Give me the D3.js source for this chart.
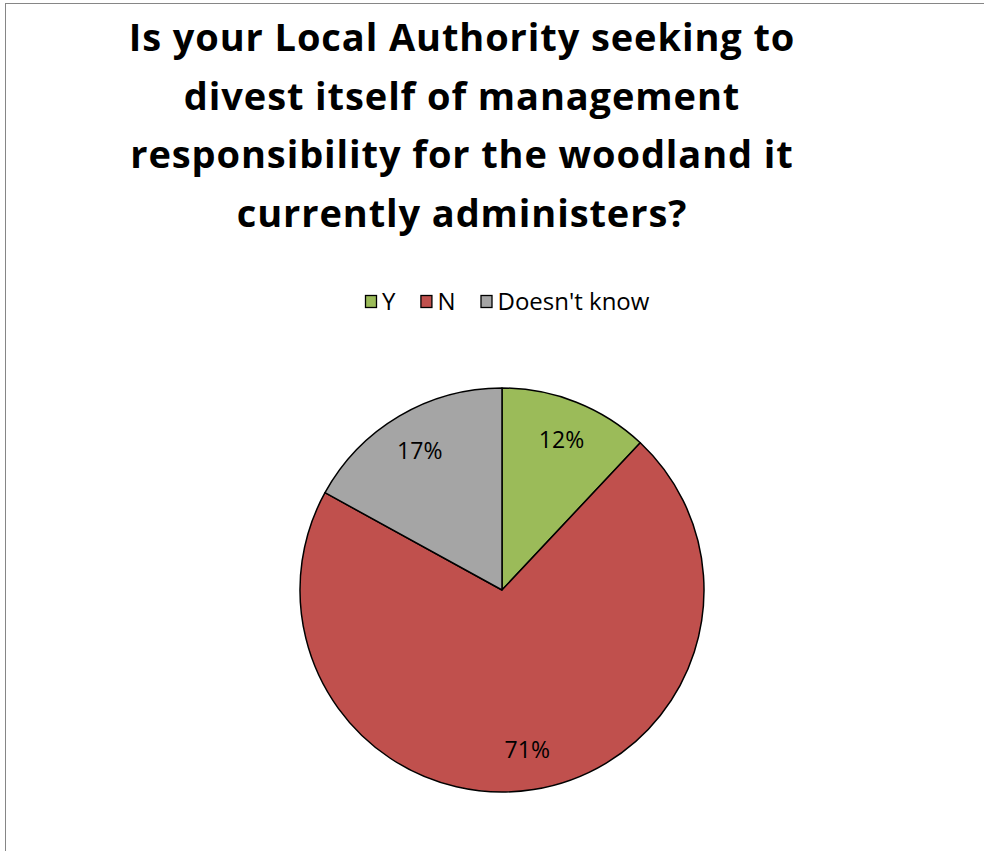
<!DOCTYPE html>
<html>
<head>
<meta charset="utf-8">
<script src="https://cdn.jsdelivr.net/npm/d3@7"></script>
<style>
  html, body { margin: 0; padding: 0; background: #fff; }
  svg { display: block; }
</style>
</head>
<body>
<svg id="chart" width="984" height="851"></svg>
<script>
// Survey answers and their shares (percent)
const categories = ["Y", "N", "Doesn't know"];
const values = [12, 71, 17];
const colors = ["#9BBB59", "#C0504D", "#A5A5A5"];
const titleLines = [
  "Is your Local Authority seeking to",
  "divest itself of management",
  "responsibility for the woodland it",
  "currently administers?"
];

const W = 984, H = 851;
const svg = d3.select("#chart");
const font = "'Open Sans', Lato, sans-serif";

// Chart area frame
svg.append("rect")
  .attr("x", 5.5).attr("y", 3.5)
  .attr("width", W + 10).attr("height", H + 10)
  .attr("fill", "#fff")
  .attr("stroke", "#868686").attr("stroke-width", 1);

// Title
const title = svg.append("text")
  .attr("text-anchor", "middle")
  .attr("font-family", font)
  .attr("font-weight", "bold")
  .attr("font-size", 38)
  .attr("letter-spacing", 0.9)
  .attr("fill", "#000");
titleLines.forEach((line, i) => {
  title.append("tspan")
    .attr("x", 462)
    .attr("y", 51 + i * 58.7)
    .text(line);
});

// Legend
const legend = svg.append("g").attr("font-family", font).attr("font-size", 24);
let lx = 365;
categories.forEach((name, i) => {
  const g = legend.append("g").attr("transform", `translate(${lx},0)`);
  g.append("rect")
    .attr("x", 0.5).attr("y", 295.5)
    .attr("width", 11).attr("height", 12)
    .attr("fill", colors[i])
    .attr("stroke", "#000").attr("stroke-width", 1.3);
  const t = g.append("text")
    .attr("x", 17).attr("y", 309.5)
    .attr("fill", "#000")
    .text(name);
  lx += 17 + t.node().getComputedTextLength() + 25;
});

// Pie
const cx = 502, cy = 590, r = 202;
const pie = d3.pie().sort(null).value(d => d)
  .startAngle(0).endAngle(2 * Math.PI);
const arcs = pie(values);
const arc = d3.arc().innerRadius(0).outerRadius(r);
const labelArc = d3.arc().innerRadius(r * 0.8).outerRadius(r * 0.8);

const pg = svg.append("g").attr("transform", `translate(${cx},${cy})`);
pg.selectAll("path.slice")
  .data(arcs)
  .join("path")
  .attr("class", "slice")
  .attr("d", arc)
  .attr("fill", (d, i) => colors[i])
  .attr("stroke", "#000")
  .attr("stroke-width", 1.5)
  .attr("stroke-linejoin", "round");

pg.selectAll("text.label")
  .data(arcs)
  .join("text")
  .attr("class", "label")
  .attr("transform", d => `translate(${labelArc.centroid(d)})`)
  .attr("text-anchor", "middle")
  .attr("dy", "0.36em")
  .attr("font-family", font)
  .attr("font-size", 23)
  .attr("fill", "#000")
  .text(d => d.data + "%");
</script>
</body>
</html>
